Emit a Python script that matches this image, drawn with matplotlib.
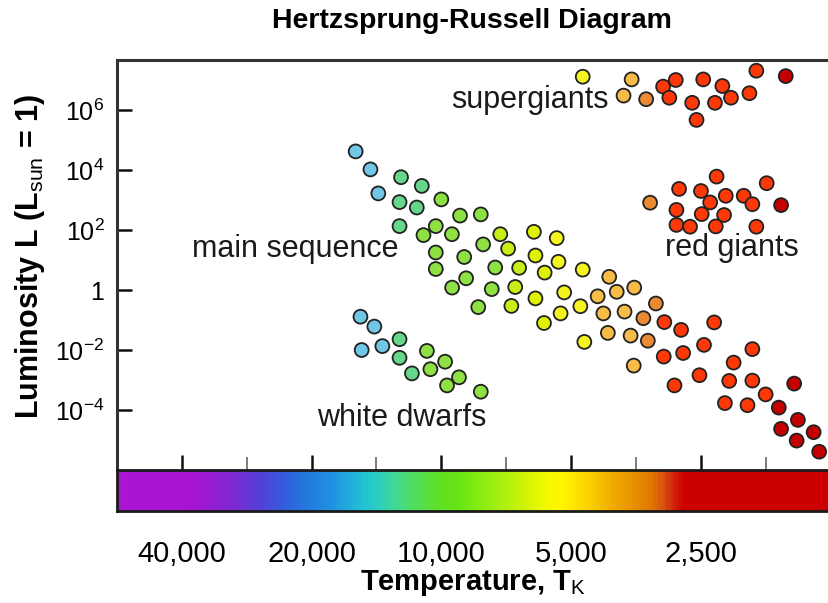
import numpy as np
import matplotlib
matplotlib.use("Agg")
import matplotlib.pyplot as plt
from matplotlib.colors import ListedColormap, BoundaryNorm, LinearSegmentedColormap, LogNorm
from matplotlib.ticker import NullFormatter, NullLocator

plt.rcParams['font.family'] = ['Liberation Sans', 'DejaVu Sans']
plt.rcParams['mathtext.fontset'] = 'custom'
plt.rcParams['mathtext.rm'] = 'Liberation Sans'
plt.rcParams['mathtext.it'] = 'Liberation Sans:italic'
plt.rcParams['mathtext.bf'] = 'Liberation Sans:bold'

# surface temperature (K) and log10 luminosity (L_sun) for each group of stars
main_seq_temp = [15800, 14600, 14000, 12400, 11100, 10000, 12500, 11400, 9050, 8100,
                 12500, 10300, 11000, 9450, 7300, 6100, 5400, 8000, 7000, 10300,
                 8850, 6050, 5350, 10300, 7500, 6600, 5760, 4700, 4080, 8760,
                 9440, 7640, 6740, 6050, 5190, 4340, 3920, 3570, 3180, 8210,
                 6880, 4760, 4210, 3760, 3400, 3040, 2780, 2330, 5780, 5290,
                 4660, 4110, 3640, 3320, 3050, 2750, 2460, 3580, 2880, 2520,
                 2100, 1900, 2150, 1900, 1520, 1770, 2200, 1950, 1650, 1490,
                 1630, 1370, 1500, 1330]
main_seq_logL = [4.62, 4.02, 3.22, 3.76, 3.47, 3.02, 2.93, 2.75, 2.48, 2.52,
                 2.13, 2.13, 1.83, 1.86, 1.86, 1.94, 1.73, 1.52, 1.38, 1.25,
                 1.10, 1.15, 0.94, 0.70, 0.75, 0.74, 0.58, 0.68, 0.44, 0.39,
                 0.08, 0.03, 0.10, -0.28, -0.08, -0.21, -0.06, 0.08, -0.45, -0.57,
                 -0.53, -0.54, -0.78, -0.72, -0.94, -1.07, -1.33, -1.08, -1.10, -0.78,
                 -1.73, -1.43, -1.52, -1.69, -2.22, -2.10, -1.83, -2.52, -3.18, -2.84,
                 -2.42, -1.97, -3.03, -3.02, -3.12, -3.48, -3.77, -3.84, -3.92, -4.33,
                 -4.63, -4.74, -5.02, -5.39]

supergiant_temp = [4700, 3620, 3780, 3350, 3060, 2860, 2960, 2470, 2230, 2620,
                   2320, 2130, 1930, 2560, 1860, 1590]
supergiant_logL = [7.11, 7.02, 6.48, 6.36, 6.78, 7.00, 6.41, 7.02, 6.80, 6.24,
                   6.24, 6.41, 6.56, 5.67, 7.31, 7.13]

red_giant_temp = [3280, 2810, 2500, 2300, 2190, 2380, 1990, 1900, 1760, 1630,
                  2850, 2490, 2210, 2850, 2650, 2310, 1860]
red_giant_logL = [2.91, 3.37, 3.30, 3.78, 3.14, 2.92, 3.14, 2.86, 3.56, 2.83,
                  2.67, 2.53, 2.50, 2.17, 2.11, 2.12, 2.11]

white_dwarf_temp = [15400, 14300, 15300, 13700, 12500, 12500, 10800, 9800, 11700, 10600,
                    9100, 9700, 8100]
white_dwarf_logL = [-0.89, -1.22, -2.00, -1.87, -1.64, -2.26, -2.03, -2.39, -2.78, -2.64,
                    -2.91, -3.18, -3.39]

# axis ticks
temp_ticks = [40000, 20000, 10000, 5000, 2500]
temp_labels = ['40,000', '20,000', '10,000', '5,000', '2,500']
temp_minor = [28284, 14142, 7071, 3536, 1768]
lum_ticks = [1e6, 1e4, 1e2, 1, 1e-2, 1e-4]
lum_labels = ['$10^{6}$', '$10^{4}$', '$10^{2}$', '1', '$10^{-2}$', '$10^{-4}$']

t_hot, t_cool = 56500, 1262

# star colour bands by temperature
dot_bounds = [0, 1700, 3100, 3450, 4500, 5600, 6300, 7400, 11050, 13000, 1e6]
dot_colors = ['#C40000', '#FF3808', '#EC8A34', '#F7BC48', '#F4F41E', '#DFF206',
              '#C8EE18', '#8EE142', '#66D78A', '#70C8E6']
dot_cmap = ListedColormap(dot_colors)
dot_norm = BoundaryNorm(dot_bounds, len(dot_colors))

# temperature strip gradient
strip_temp = [56500, 37200, 33300, 29300, 26100, 23000, 20600, 18100, 16700, 15300,
              14200, 12900, 11600, 10000, 9100, 8100, 7100, 6400, 5760, 5300,
              4900, 4400, 3960, 3560, 3250, 3040, 2870, 2730, 1262]
strip_colors = ['#AA14D2', '#A614D2', '#9020D0', '#7030D4', '#5040D8', '#3060DC',
                '#2478DE', '#2090E0', '#20A8DC', '#22C0D4', '#2ACCC6', '#40D898',
                '#50DC60', '#60E020', '#68E414', '#88EC10', '#B0F010', '#D0F408',
                '#F0F800', '#FFF800', '#FFE400', '#F8C800', '#F0A800', '#E89000',
                '#E07800', '#D85010', '#D02008', '#CC0000', '#CC0000']
strip_norm = LogNorm(vmin=t_cool, vmax=t_hot)
pos = list(np.clip(strip_norm(strip_temp), 0, 1))[::-1]
pos[0], pos[-1] = 0.0, 1.0
strip_cmap = LinearSegmentedColormap.from_list('temp_strip', list(zip(pos, strip_colors[::-1])))

fig = plt.figure(figsize=(8.29, 6.03), dpi=100)
ax = fig.add_axes([117/829, 133/603, 712/829, 410/603])
cax = fig.add_axes([117/829, 92/603, 712/829, 41/603])

groups = [(main_seq_temp, main_seq_logL), (supergiant_temp, supergiant_logL),
          (red_giant_temp, red_giant_logL), (white_dwarf_temp, white_dwarf_logL)]
for temp, logL in groups:
    ax.scatter(temp, 10.0 ** np.array(logL), c=temp, cmap=dot_cmap, norm=dot_norm,
               s=100, edgecolors='#222222', linewidths=1.3, zorder=3)

ax.set_xscale('log', base=2)
ax.set_yscale('log')
ax.set_xlim(t_hot, t_cool)
ax.set_ylim(1e-6, 10 ** 7.667)

ax.set_xticks(temp_ticks)
ax.set_xticks(temp_minor, minor=True)
ax.xaxis.set_major_formatter(NullFormatter())
ax.xaxis.set_minor_formatter(NullFormatter())
ax.set_yticks(lum_ticks, labels=lum_labels)
ax.yaxis.set_minor_locator(NullLocator())

ax.tick_params(axis='x', which='major', direction='in', length=11, width=1.8, color='#111111')
ax.tick_params(axis='x', which='minor', direction='in', length=9.5, width=1.2, color='#666666')
ax.tick_params(axis='y', direction='in', length=11, width=1.8, color='#111111',
               pad=9, labelsize=18)

for side in ['left', 'top']:
    ax.spines[side].set_linewidth(2.2)
    ax.spines[side].set_color('#333333')
ax.spines['right'].set_visible(False)
ax.spines['bottom'].set_visible(False)

ax.set_ylabel('Luminosity L (L$_{\\rm sun}$ = 1)', fontsize=22, weight='bold')
ax.yaxis.set_label_coords(-0.098, 0.52)

# group labels
label_style = dict(transform=ax.transAxes, ha='center', va='center', fontsize=22,
                   color='#1a1a1a')
ax.text(0.580, 0.902, 'supergiants', **label_style)
ax.text(0.251, 0.539, 'main sequence', **label_style)
ax.text(0.863, 0.541, 'red giants', **label_style)
ax.text(0.400, 0.127, 'white dwarfs', **label_style)

# temperature colour strip
edges = np.geomspace(t_hot, t_cool, 600)
centers = np.sqrt(edges[:-1] * edges[1:])
cax.pcolormesh(edges, [0, 1], centers[None, :], cmap=strip_cmap, norm=strip_norm,
               shading='flat')
cax.set_xscale('log', base=2)
cax.set_xlim(t_hot, t_cool)
cax.set_ylim(0, 1)
cax.set_yticks([])
cax.set_xticks(temp_ticks, labels=temp_labels)
cax.set_xticks([], minor=True)
cax.tick_params(axis='x', length=0, pad=21, labelsize=21)
for side in ['left', 'top', 'bottom']:
    cax.spines[side].set_linewidth(2.0)
    cax.spines[side].set_color('#1a1a1a')
cax.spines['right'].set_visible(False)
cax.set_xlabel('Temperature, T$_{\\rm K}$', fontsize=21, weight='bold', labelpad=0)

fig.text(472/829, 1 - 21/603, 'Hertzsprung-Russell Diagram', ha='center', va='center',
         fontsize=20.5, weight='bold')

fig.savefig('out.png', dpi=100)
